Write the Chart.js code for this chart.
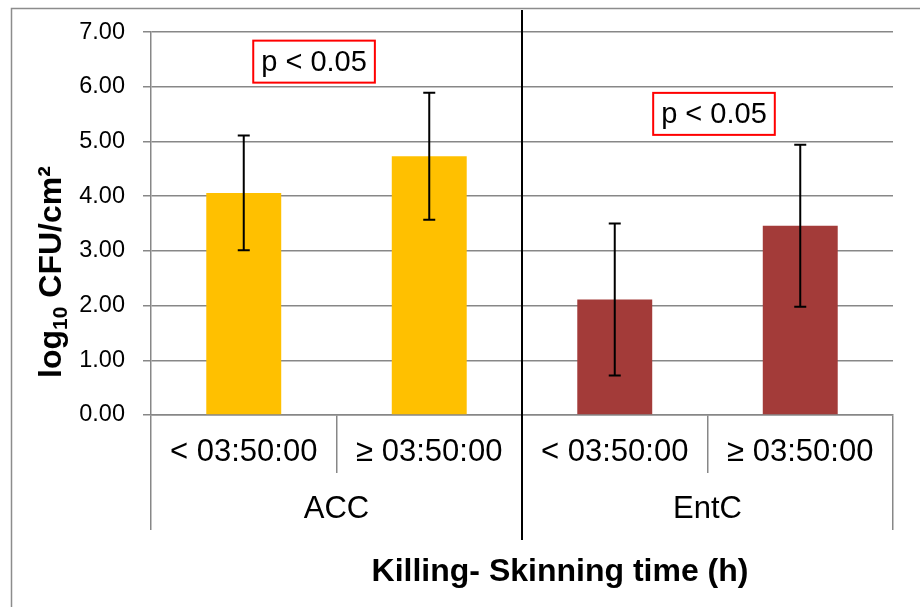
<!DOCTYPE html>
<html>
<head>
<meta charset="utf-8">
<script src="https://cdn.jsdelivr.net/npm/chart.js@4/dist/chart.umd.min.js"></script>
<style>
  html, body { margin: 0; padding: 0; background: #fff; }
  #wrap { width: 920px; height: 607px; }
</style>
</head>
<body>
<div id="wrap"><canvas id="chart" width="920" height="607"></canvas></div>
<script>
// data
const groups = ["ACC", "EntC"];
const timeLabels = ["< 03:50:00", "≥ 03:50:00", "< 03:50:00", "≥ 03:50:00"];
const meanValues = [4.06, 4.73, 2.11, 3.46];
const errorValues = [1.05, 1.16, 1.39, 1.48];
const yMin = 0, yMax = 7, yStep = 1;
const pLabels = ["p < 0.05", "p < 0.05"];

const barColors = ["#FFC000", "#FFC000", "#A33B39", "#A33B39"];
const gridGrey = "#878787";
const FONT = "'Liberation Sans', Arial, sans-serif";
Chart.defaults.font.family = FONT;
Chart.defaults.color = "#000";

// where the two significance boxes sit (category index, value)
const pBoxes = [
  { cat: 0.379, val: 6.46 },
  { cat: 2.535, val: 5.505 }
];

const extras = {
  id: "extras",
  beforeDraw(chart) {
    const ctx = chart.ctx;
    ctx.save();
    ctx.strokeStyle = "#8c8c8c";
    ctx.lineWidth = 1.5;
    ctx.strokeRect(11.5, 8.5, 940, 640);
    ctx.restore();
  },
  afterDatasetsDraw(chart) {
    const ctx = chart.ctx;
    const xs = chart.scales.x, ys = chart.scales.y;
    ctx.save();
    // error bars
    ctx.strokeStyle = "#000";
    ctx.lineWidth = 2;
    meanValues.forEach((v, i) => {
      const x = xs.getPixelForValue(i);
      const top = ys.getPixelForValue(v + errorValues[i]);
      const bot = ys.getPixelForValue(v - errorValues[i]);
      ctx.beginPath();
      ctx.moveTo(x, top); ctx.lineTo(x, bot);
      ctx.moveTo(x - 6, top); ctx.lineTo(x + 6, top);
      ctx.moveTo(x - 6, bot); ctx.lineTo(x + 6, bot);
      ctx.stroke();
    });
    // divider between the groups
    const mid = (xs.getPixelForValue(1) + xs.getPixelForValue(2)) / 2;
    ctx.beginPath();
    ctx.moveTo(mid, 10); ctx.lineTo(mid, 540);
    ctx.stroke();
    // p boxes
    ctx.font = "29px " + FONT;
    ctx.textAlign = "center";
    ctx.textBaseline = "middle";
    pBoxes.forEach((b, i) => {
      const cx = xs.getPixelForValue(b.cat);
      const cy = ys.getPixelForValue(b.val);
      const w = ctx.measureText(pLabels[i]).width + 16;
      const h = 42;
      ctx.fillStyle = "#fff";
      ctx.fillRect(cx - w / 2, cy - h / 2, w, h);
      ctx.strokeStyle = "#ff0000";
      ctx.lineWidth = 2;
      ctx.strokeRect(cx - w / 2, cy - h / 2, w, h);
      ctx.fillStyle = "#000";
      ctx.fillText(pLabels[i], cx, cy + 1);
    });
    ctx.restore();
  },
  afterDraw(chart) {
    const ctx = chart.ctx;
    ctx.save();
    ctx.fillStyle = "#000";
    // x title
    ctx.font = "bold 32px " + FONT;
    ctx.textAlign = "center";
    ctx.textBaseline = "alphabetic";
    ctx.fillText("Killing- Skinning time (h)", 560, 581);
    // y title with subscript
    const big = "bold 32px " + FONT, small = "bold 21px " + FONT;
    const parts = [["log", big, 0], ["10", small, 6], [" CFU/cm²", big, 0]];
    let total = 0;
    parts.forEach(p => { ctx.font = p[1]; total += ctx.measureText(p[0]).width; });
    ctx.translate(61, 272);
    ctx.rotate(-Math.PI / 2);
    ctx.textAlign = "left";
    let x = -total / 2;
    parts.forEach(p => {
      ctx.font = p[1];
      ctx.fillText(p[0], x, p[2]);
      x += ctx.measureText(p[0]).width;
    });
    ctx.restore();
  }
};

new Chart(document.getElementById("chart"), {
  type: "bar",
  data: {
    labels: timeLabels,
    datasets: [{
      data: meanValues,
      backgroundColor: barColors,
      borderWidth: 0,
      barPercentage: 0.404,
      categoryPercentage: 1
    }]
  },
  options: {
    responsive: false,
    animation: false,
    devicePixelRatio: 1,
    layout: { padding: { top: 30, right: 27, left: 0, bottom: 0 } },
    plugins: { legend: { display: false }, tooltip: { enabled: false } },
    scales: {
      x: {
        offset: true,
        grid: { offset: true, drawOnChartArea: false, tickLength: 58, color: gridGrey, lineWidth: 1.5 },
        border: { color: gridGrey, width: 1.5 },
        ticks: { font: { size: 31 }, color: "#000", padding: -39, maxRotation: 0, autoSkip: false },
        afterFit: s => { s.height = 58; }
      },
      x2: {
        type: "category",
        labels: groups,
        position: "bottom",
        offset: true,
        grid: { offset: true, drawOnChartArea: false, tickLength: 57, color: gridGrey, lineWidth: 1.5 },
        border: { display: false },
        ticks: { font: { size: 31 }, color: "#000", padding: -39, maxRotation: 0, autoSkip: false },
        afterFit: s => { s.height = 134; }
      },
      y: {
        min: yMin,
        max: yMax,
        ticks: { stepSize: yStep, callback: v => v.toFixed(2), font: { size: 23.5 }, color: "#000", padding: 18 },
        grid: { color: gridGrey, lineWidth: 1.5, tickLength: 8 },
        border: { color: gridGrey, width: 1.5 },
        afterFit: s => { s.width = 151; }
      }
    }
  },
  plugins: [extras]
});
</script>
</body>
</html>
